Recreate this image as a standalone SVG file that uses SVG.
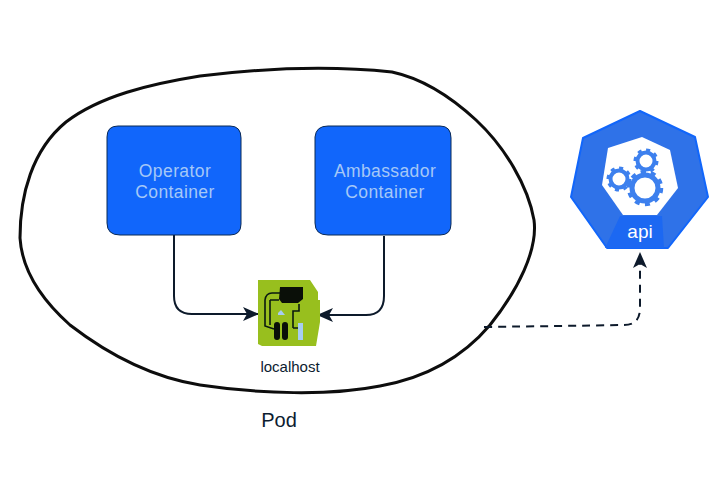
<svg xmlns="http://www.w3.org/2000/svg" width="720" height="480" viewBox="0 0 720 480">
<defs>
<style>
.box{fill:#1166fb;stroke:#0b2a55;stroke-width:1}
.lbl{font-family:"Liberation Sans",Arial,sans-serif;font-size:17.5px;fill:#a5c8f7;text-anchor:middle;letter-spacing:.4px}
.dk{font-family:"Liberation Sans",Arial,sans-serif;fill:#0c1c30;text-anchor:middle}
.con{fill:none;stroke:#0d1a2b;stroke-width:2}
.trace{fill:none;stroke:#0a1a10;stroke-width:1.6}
.ring{fill:none;stroke:#3d80ee}
.teeth{fill:none;stroke:#3d80ee}
</style>
<marker id="ah" viewBox="0 0 16 16" refX="15" refY="8" markerWidth="16" markerHeight="16" markerUnits="userSpaceOnUse" orient="auto"><path d="M0 1L16 8L0 15L4 8Z" fill="#0d1a2b"/></marker>
</defs>
<g id="pod">
<path d="M392 72C420 78 450 96 476 120C505 147 528 186 534 220C538 250 518 290 490 325C462 358 425 378 380 386C330 396 260 394 200 385C150 377 105 352 70 325C42 300 22 270 20 238C20 195 32 150 66 122C100 96 150 84 200 76C265 68 335 66 392 72Z" fill="none" stroke="#0d0d0d" stroke-width="3"/>
<text class="dk" x="279" y="427" font-size="20">Pod</text>
</g>
<g id="connectors">
<path class="con" d="M174 234V296Q174 314 192 314H258" marker-end="url(#ah)"/>
<path class="con" d="M384 236V296Q384 315 366 315H318" marker-end="url(#ah)"/>
<path class="con" d="M484 327Q560 326 624 325Q640 325 640 308V253" stroke-width="2.8" stroke-dasharray="8 6" marker-end="url(#ah)"/>
</g>
<g id="operator">
<path class="box" d="M118 126H230Q241 126 241 138V224Q241 235 230 235H120Q107 235 107 223V137Q107 126 118 126Z"/>
<text class="lbl" x="175" y="177">Operator</text>
<text class="lbl" x="175" y="198">Container</text>
</g>
<g id="ambassador">
<path class="box" d="M328 126H440Q451 126 451 138V224Q451 235 440 235H328Q315 235 315 223V137Q316 126 328 126Z"/>
<text class="lbl" x="385" y="177">Ambassador</text>
<text class="lbl" x="385" y="198">Container</text>
</g>
<g id="localhost">
<path d="M258 280H310L318 292V300H320V322L316 346H262L258 344Z" fill="#98bf1e"/>
<path d="M280 287H303V299L298 303H282L279 299Z" fill="#0a0f08"/>
<rect x="274" y="322" width="6" height="18" rx="3" fill="#0a0f08"/>
<rect x="282" y="322" width="6" height="18" rx="3" fill="#0a0f08"/>
<rect x="298" y="323" width="5" height="17" fill="#a7cdf2"/>
<path d="M278 313L281 310L285 315H278Z" fill="#a7cdf2"/>
<path class="trace" d="M280 293H272Q266 293 265 300V326L274 329M270 300H279M270 300V325M299 304V311H293V328M293 328H298"/>
<text class="dk" x="290" y="372" font-size="15">localhost</text>
</g>
<g id="api">
<path d="M640 111L695 137L708 197L668 248H607L571 197L583 138Z" fill="#2f72e8" stroke="#1166fb" stroke-width="2" stroke-linejoin="round"/>
<path d="M642 137L670 150L678 188L657 215H623L602 185L608 148Z" fill="#fff"/>
<path d="M605 248L620 216H662L664 248Z" fill="#1c68f2"/>
<circle class="ring" cx="646" cy="161" r="8.5" stroke-width="4"/>
<circle class="teeth" cx="646" cy="161" r="11" stroke-width="3" stroke-dasharray="4 4.6"/>
<circle class="ring" cx="619" cy="179" r="8.5" stroke-width="4"/>
<circle class="teeth" cx="619" cy="179" r="11" stroke-width="3" stroke-dasharray="4 4.6"/>
<circle class="ring" cx="645" cy="188" r="13" stroke-width="5"/>
<circle class="teeth" cx="645" cy="188" r="16.5" stroke-width="3.5" stroke-dasharray="5 5.4"/>
<text x="640" y="238" font-family="'Liberation Sans',Arial,sans-serif" font-size="19" fill="#fff" text-anchor="middle">api</text>
</g>
</svg>
